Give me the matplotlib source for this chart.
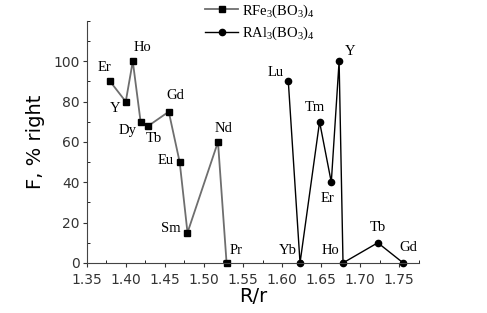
import matplotlib.pyplot as plt
from matplotlib.ticker import MultipleLocator

plt.rcParams['mathtext.fontset'] = 'custom'
plt.rcParams['mathtext.rm'] = 'Liberation Serif'
plt.rcParams['mathtext.it'] = 'Liberation Serif:italic'

# RFe3(BO3)4
fe_names = ['Er', 'Y', 'Ho', 'Dy', 'Tb', 'Gd', 'Eu', 'Sm', 'Nd', 'Pr']
fe_x = [1.38, 1.40, 1.409, 1.419, 1.429, 1.455, 1.469, 1.479, 1.518, 1.529]
fe_y = [90, 80, 100, 70, 68, 75, 50, 15, 60, 0]

# RAl3(BO3)4
al_names = ['Lu', 'Yb', 'Tm', 'Er', 'Y', 'Ho', 'Tb', 'Gd']
al_x = [1.608, 1.623, 1.648, 1.663, 1.673, 1.678, 1.7225, 1.755]
al_y = [90, 0, 70, 40, 100, 0, 10, 0]

# label offsets in points
fe_off = [(-4, 10), (-8, -5), (7, 10), (-9, -6.5), (4, -9), (5, 12), (-10, 1.5), (-12, 3), (4, 10), (7, 9)]
al_off = [(-9, 6.5), (-9, 9), (-3.5, 10), (-3, -11.5), (8, 7), (-9, 9), (0, 11), (3.5, 11)]

plt.figure(figsize=(4.87, 3.13), dpi=100)
ax = plt.axes([0.178, 0.16, 0.682, 0.773])

ax.plot(fe_x, fe_y, '-s', color='#6e6e6e', lw=1.3, ms=4.5, mfc='black', mec='black',
        label=r'RFe$_3$(BO$_3$)$_4$', clip_on=False)
ax.plot(al_x, al_y, '-o', color='black', lw=1.0, ms=4.5, label=r'RAl$_3$(BO$_3$)$_4$', clip_on=False)

for n, x, y, o in zip(fe_names, fe_x, fe_y, fe_off):
    ax.annotate(n, (x, y), xytext=o, textcoords='offset points', ha='center', va='center',
                fontsize=10.5, family='Liberation Serif')
for n, x, y, o in zip(al_names, al_x, al_y, al_off):
    ax.annotate(n, (x, y), xytext=o, textcoords='offset points', ha='center', va='center',
                fontsize=10.5, family='Liberation Serif')

ax.set_xlim(1.35, 1.775)
ax.set_ylim(0, 120)
ax.xaxis.set_major_locator(MultipleLocator(0.05))
ax.xaxis.set_minor_locator(MultipleLocator(0.025))
ax.yaxis.set_major_locator(MultipleLocator(20))
ax.yaxis.set_minor_locator(MultipleLocator(10))
ax.set_yticks([0, 20, 40, 60, 80, 100])
ax.tick_params(which='major', direction='out', length=3, labelsize=10, colors='#333333')
ax.tick_params(axis='x', which='major', pad=4)
ax.tick_params(axis='y', which='major', pad=2)
ax.tick_params(which='minor', direction='in', length=2.5)
for s in ['top', 'right']:
    ax.spines[s].set_visible(False)
for s in ['left', 'bottom']:
    ax.spines[s].set_color('#444444')

ax.set_xlabel('R/r', fontsize=14, labelpad=0)
ax.set_ylabel('F, % right', fontsize=14, labelpad=6)

plt.figlegend(loc='upper left', bbox_to_anchor=(0.395, 1.035), frameon=False,
              prop={'family': 'Liberation Serif', 'size': 10.5}, handlelength=2.2,
              handletextpad=0.3, labelspacing=0.35)

plt.savefig('out.png', dpi=100)
